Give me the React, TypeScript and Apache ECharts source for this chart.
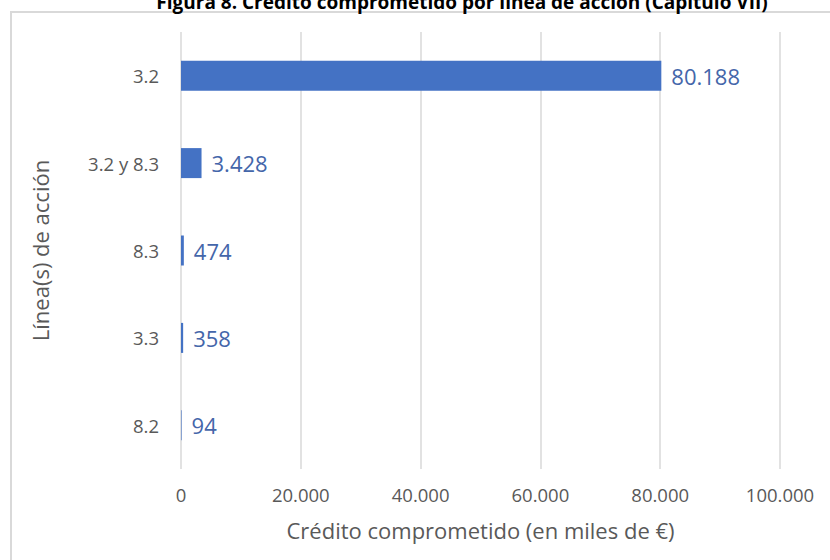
import React, { useEffect, useRef } from "react";
import * as echarts from "echarts";

const titleText = "Figura 8. Crédito comprometido por línea de acción (Capítulo VII)";
const categories = ["3.2", "3.2 y 8.3", "8.3", "3.3", "8.2"];
const values = [80188, 3428, 474, 358, 94];
const xAxisName = "Crédito comprometido (en miles de €)";
const yAxisName = "Línea(s) de acción";

const fmt = (v: number) => String(Math.round(v)).replace(/\B(?=(\d{3})+(?!\d))/g, ".");

export default function App() {
  const ref = useRef<HTMLDivElement>(null);
  useEffect(() => {
    document.body.style.margin = "0";
    const chart = echarts.init(ref.current!, null, { renderer: "svg" });
    const font = "'Open Sans', 'Noto Sans', sans-serif";
    chart.setOption({
      animation: false,
      backgroundColor: "#ffffff",
      textStyle: { fontFamily: font },
      graphic: [
        {
          type: "rect",
          shape: { x: 11, y: 12, width: 900, height: 600 },
          style: { fill: "none", stroke: "#d9d9d9", lineWidth: 2 },
          silent: true,
        },
        {
          type: "text",
          x: 462,
          y: 11,
          style: {
            text: titleText,
            fontFamily: font,
            fontWeight: "bold",
            fontSize: 19,
            fill: "#000000",
            align: "center",
            verticalAlign: "bottom",
          },
        },
      ],
      grid: { left: 181, right: 50, top: 32, bottom: 91, containLabel: false },
      xAxis: {
        type: "value",
        min: 0,
        max: 100000,
        interval: 20000,
        name: xAxisName,
        nameLocation: "middle",
        nameGap: 50,
        nameTextStyle: { color: "#595959", fontSize: 22, fontFamily: font },
        axisLine: { show: false },
        axisTick: { show: false },
        axisLabel: { color: "#595959", fontSize: 18.5, margin: 16, formatter: (v: number) => fmt(v) },
        splitLine: { show: true, lineStyle: { color: "#d9d9d9", width: 1.5 } },
      },
      yAxis: {
        type: "category",
        data: categories,
        inverse: true,
        name: yAxisName,
        nameLocation: "middle",
        nameGap: 130,
        nameRotate: 90,
        nameTextStyle: { color: "#595959", fontSize: 22, fontFamily: font },
        axisLine: { show: false },
        axisTick: { show: false },
        axisLabel: { color: "#595959", fontSize: 18.5, margin: 22 },
        splitLine: { show: false },
      },
      series: [
        {
          type: "bar",
          data: values,
          barWidth: 30,
          itemStyle: { color: "#4472C4" },
          label: {
            show: true,
            position: "right",
            distance: 10,
            color: "#4466AA",
            fontSize: 22,
            fontFamily: font,
            formatter: (p: any) => fmt(p.value),
          },
        },
      ],
    });
    return () => chart.dispose();
  }, []);
  return <div ref={ref} style={{ width: 830, height: 560 }} />;
}
